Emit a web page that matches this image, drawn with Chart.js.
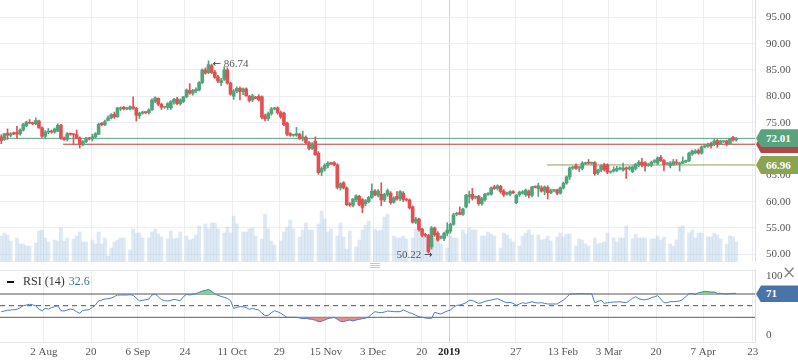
<!DOCTYPE html>
<html>
<head>
<meta charset="utf-8">
<title>Price with RSI</title>
<script src="https://cdn.jsdelivr.net/npm/chart.js@4.4.1/dist/chart.umd.min.js"></script>
<style>
    html, body { margin: 0; padding: 0; background: #fff; }
    #wrap { position: relative; width: 798px; height: 363px; overflow: hidden; font-family: 'Liberation Serif', 'Times New Roman', serif; color: #555; }
    canvas { position: absolute; left: 0; }
    #main { top: 0; }
    #rsi { top: 263px; }
    .tag { position: absolute; left: 756px; width: 42px; height: 18px; line-height: 18px; padding-left: 10px; box-sizing: border-box; color: #fff; font-weight: bold; font-size: 11px; clip-path: polygon(0 50%, 5px 0, 100% 0, 100% 100%, 5px 100%); }
    .note { position: absolute; font-size: 11px; color: #555; white-space: nowrap; line-height: 12px; }
    .arrow { font-family: 'DejaVu Sans', sans-serif; font-size: 10px; color: #333; }
    #grip { position: absolute; left: 370px; top: 263px; width: 10px; height: 5px; border-top: 1px solid #c4c7cc; border-bottom: 1px solid #c4c7cc; box-sizing: border-box; }
    #grip::after { content: ''; position: absolute; left: 0; right: 0; top: 1px; border-top: 1px solid #c4c7cc; }
    #rsiLegend { position: absolute; left: 7px; top: 274px; font-size: 12px; color: #333; white-space: nowrap; line-height: 14px; }
    #rsiLegend .dash { display: inline-block; width: 7px; height: 2px; background: #111; vertical-align: middle; margin-right: 9px; }
    #rsiLegend .val { color: #3e6fb0; margin-left: 4px; }
    #closeBtn { position: absolute; left: 782px; top: 263px; font-family: 'DejaVu Sans', sans-serif; font-size: 17px; color: #888; line-height: 18px; }
</style>
</head>
<body>
<div id="wrap">
    <canvas id="main" width="798" height="262"></canvas>
    <canvas id="rsi" width="798" height="100"></canvas>
    <div id="grip"></div>
    <div class="tag" id="tagRed" style="background:#b24646;"></div>
    <div class="tag" id="tagGreen" style="background:#58a37d;">72.01</div>
    <div class="tag" id="tagOlive" style="background:#8ca34f;">66.96</div>
    <div class="tag" id="tagRsi" style="background:#4a74a8; height:17px; line-height:17px;">71</div>
    <div class="note" id="hiNote"><span class="arrow">&#8592;</span> 86.74</div>
    <div class="note" id="loNote">50.22 <span class="arrow">&#8594;</span></div>
    <div id="rsiLegend"><span class="dash"></span>RSI (14)<span class="val">32.6</span></div>
    <div id="closeBtn">&#215;</div>
</div>
<script>
// candles, one per session
const opens = [
    72.3,71.8,73.0,72.6,73.0,73.1,72.9,73.6,74.4,75.1, 74.9,74.8,75.3,74.0,72.4,73.2,73.4,73.2,73.4,74.5,
    72.0,71.8,72.9,72.8,72.7,72.1,70.8,71.4,72.0,71.9, 72.3,72.8,74.9,74.6,75.4,75.9,76.6,76.1,77.6,77.9,
    77.6,77.6,78.0,77.7,76.3,76.8,77.0,76.9,77.4,79.0, 79.6,78.5,77.9,77.9,77.8,78.9,79.5,78.6,79.0,79.9,
    81.1,80.6,81.0,81.2,82.6,85.0,84.5,85.8,84.6,83.7, 82.6,83.2,85.0,82.5,80.0,81.0,81.5,80.9,81.4,80.0,
    79.3,79.8,80.0,79.9,76.3,75.8,76.7,77.6,77.8,76.9, 76.8,74.9,72.9,72.6,72.6,72.8,71.9,72.2,71.2,70.1,
    71.5,69.2,65.6,66.2,66.8,67.3,67.4,67.0,62.6,63.6, 62.6,59.5,59.3,60.4,61.0,60.4,59.6,60.0,60.8,62.0,
    61.2,61.4,60.3,61.3,61.6,59.9,61.0,60.6,61.6,60.4, 60.3,59.0,56.1,56.7,54.8,53.7,53.6,51.4,55.0,54.0,
    53.2,53.0,54.0,54.4,55.7,57.6,57.9,57.6,59.0,61.0, 61.4,60.8,61.0,59.6,60.4,61.4,61.4,62.8,62.5,62.9,
    62.0,61.5,61.4,61.9,59.8,61.3,61.6,61.3,61.9,61.2, 62.8,62.5,62.6,62.0,62.7,61.7,62.1,62.2,61.6,62.6,
    63.5,64.7,66.4,66.8,66.4,66.3,67.2,67.4,67.3,67.4, 65.5,66.0,67.0,67.0,65.6,65.8,65.9,66.2,66.0,66.4,
    66.2,65.7,66.3,66.9,67.5,67.4,66.9,66.9,67.5,67.3, 68.4,67.8,67.2,66.8,67.0,67.5,67.1,67.3,67.6,67.8,
    69.0,69.3,69.7,69.2,70.4,70.5,71.0,70.8,71.6,71.0, 71.4,71.5,71.0,72.2,71.7
];
const highs = [
    72.7,73.0,73.8,73.1,73.2,74.3,73.8,74.9,75.3,75.6, 75.1,75.9,75.5,74.2,73.5,73.9,73.6,74.0,74.8,74.7,
    72.3,73.1,73.0,72.9,73.6,72.3,71.6,72.2,72.2,72.8, 73.1,74.9,75.0,75.5,76.3,76.7,77.0,77.9,78.0,78.1,
    77.9,78.2,79.9,77.9,77.0,77.2,77.1,77.6,79.5,79.9, 79.7,78.7,78.1,78.8,79.2,79.6,79.8,79.5,80.0,81.4,
    82.4,81.3,81.6,82.8,85.2,85.4,86.74,86.1,84.9,84.0, 83.4,85.6,85.4,82.7,81.3,81.8,81.8,81.6,81.6,80.2,
    80.4,80.0,80.3,80.1,76.6,77.0,77.9,77.9,78.0,77.2, 77.0,75.1,73.1,72.8,74.1,73.0,73.4,72.5,71.4,71.2,
    72.3,69.5,66.6,67.2,67.6,67.5,67.6,67.2,63.6,63.8, 62.8,59.8,60.6,61.3,61.2,60.6,60.4,61.0,63.4,62.3,
    62.3,63.6,61.6,62.4,61.9,60.9,61.9,62.1,61.9,60.6, 60.5,59.2,57.0,56.9,55.0,54.0,53.8,55.3,55.2,54.3,
    53.5,54.2,56.0,55.9,57.8,58.0,59.0,58.8,61.4,62.0, 62.5,61.1,61.2,60.8,61.6,61.7,62.8,63.1,63.2,63.1,
    62.3,61.8,62.1,62.1,61.4,62.0,62.1,62.4,62.2,62.9, 63.0,63.5,63.0,63.0,63.0,62.4,62.3,62.4,62.8,63.7,
    64.9,66.6,66.7,67.2,66.7,67.6,67.5,68.0,67.5,67.6, 66.2,67.0,67.3,67.2,65.8,66.6,66.7,66.6,67.3,66.6,
    66.7,66.8,67.3,67.8,68.2,67.6,67.3,67.7,68.0,68.5, 68.8,68.0,67.4,67.6,68.0,68.0,67.5,68.5,67.9,69.4,
    69.8,69.9,70.0,70.6,70.7,71.1,71.3,71.8,71.8,71.7, 71.6,71.7,72.0,72.4,72.2
];
const lows = [
    71.0,71.6,71.8,72.3,72.7,72.0,72.6,73.4,74.2,74.8, 74.6,74.6,73.9,72.2,72.1,72.9,73.0,73.0,73.3,71.8,
    71.6,71.5,72.6,70.9,72.0,70.2,70.6,71.2,71.7,71.5, 72.1,72.7,74.4,74.4,75.3,75.7,75.8,76.0,77.3,77.4,
    77.4,77.4,77.5,75.3,75.8,76.6,76.7,76.6,77.3,78.8, 78.2,77.5,77.7,77.5,77.5,78.5,78.4,78.3,78.8,79.7,
    80.4,80.2,80.7,81.0,82.4,84.2,84.3,84.3,83.4,82.6, 82.0,83.0,82.3,80.2,79.4,80.7,79.3,80.3,80.0,78.9,
    79.0,79.5,79.1,75.7,75.3,75.4,76.4,77.4,76.6,75.8, 74.4,72.5,72.4,72.4,72.4,71.8,71.5,71.0,69.8,69.9,
    68.8,65.2,64.9,65.8,66.4,67.0,66.8,62.4,62.2,62.4, 59.2,59.1,59.0,60.0,59.2,57.9,59.2,59.8,60.6,61.1,
    60.9,59.2,60.0,61.0,59.5,59.7,60.3,60.2,60.0,60.1, 58.6,55.9,55.8,54.4,53.3,53.3,50.22,51.0,53.4,52.5,
    52.9,52.6,53.5,54.0,55.5,57.3,57.5,57.4,58.8,59.7, 60.3,60.5,59.3,59.3,60.1,61.2,61.2,62.3,62.2,61.6,
    61.0,61.2,61.1,61.5,59.6,61.0,61.4,61.0,60.7,60.9, 62.6,61.0,61.8,61.3,60.5,61.5,61.9,61.3,61.4,62.4,
    63.3,64.2,66.1,66.1,65.7,66.0,67.0,67.1,67.1,65.0, 65.1,65.7,65.8,65.3,65.4,65.6,65.7,66.0,65.8,64.4,
    66.0,65.5,66.0,66.6,66.6,65.8,66.7,66.6,67.3,67.0, 67.6,65.9,67.0,66.4,66.9,67.0,65.8,67.2,67.4,67.6,
    68.8,69.1,69.0,69.0,70.2,70.3,70.2,70.6,70.3,70.9, 71.2,70.6,70.8,71.5,71.5
];
const closes = [
    71.6,72.9,72.6,72.9,72.9,72.8,73.6,74.7,75.1,74.9, 74.8,75.4,74.0,72.4,73.2,73.4,73.2,73.8,74.5,72.0,
    71.8,72.9,72.8,72.7,72.1,70.8,71.4,72.0,71.9,72.3, 72.9,74.7,74.6,75.2,75.9,76.5,76.1,77.8,77.8,77.6,
    77.7,78.0,77.7,76.4,76.8,77.0,76.9,77.4,79.3,79.7, 78.5,77.9,77.9,78.6,79.0,79.4,78.6,79.3,79.9,81.2,
    80.6,81.1,81.3,82.6,85.0,84.4,86.0,84.5,83.6,82.9, 83.0,85.0,82.5,80.4,81.0,81.5,80.9,81.4,80.1,79.2,
    80.1,79.6,79.3,76.0,75.7,76.7,77.6,77.7,76.9,76.1, 74.6,72.8,72.6,72.7,72.9,71.9,72.3,71.2,70.1,70.9,
    68.9,65.5,66.3,66.9,67.3,67.2,67.0,62.7,63.4,62.6, 59.4,59.4,60.5,61.1,59.4,58.9,60.2,60.8,62.0,61.3,
    62.0,60.3,61.4,62.1,59.8,60.7,60.5,61.9,60.4,60.3, 58.8,56.1,56.7,54.7,53.6,53.6,50.5,55.0,53.7,52.7,
    53.3,54.0,54.6,55.7,57.5,57.7,57.6,58.6,61.2,61.3, 60.6,60.9,59.6,60.6,61.4,61.5,62.6,62.5,63.0,61.9,
    61.3,61.6,61.9,61.7,61.2,61.8,61.9,62.2,61.2,62.8, 62.7,63.0,62.0,62.8,61.7,62.1,62.2,61.6,62.6,63.5,
    64.7,66.4,66.5,66.3,66.4,67.3,67.3,67.3,67.4,65.3, 66.0,66.8,66.1,65.6,65.7,66.1,66.3,66.3,66.4,66.2,
    66.5,66.6,67.1,67.5,67.0,66.8,67.1,67.5,67.8,68.3, 67.8,67.0,67.2,67.3,67.6,67.3,67.3,67.6,67.8,69.2,
    69.6,69.6,69.2,70.4,70.5,70.9,70.6,71.5,70.9,71.5, 71.4,71.0,71.9,71.7,72.01
];
const volumes = [
    2.6,2.9,2.7,2.1,0,2.4,1.8,1.8,1.6,1.6, 0,1.9,3.1,3.2,2.4,2.0,0,2.2,2.1,3.4,
    2.1,2.4,0,2.3,2.6,3.0,2.0,2.0,0,2.2, 1.8,3.0,1.8,2.4,0.6,1.4,2.0,2.2,2.4,2.4,
    0,1.2,3.3,2.9,2.9,2.4,0,2.4,3.0,3.3, 2.8,2.5,0,2.3,3.1,2.3,2.4,3.0,0,2.6,
    2.2,2.3,2.7,3.6,0,3.8,3.3,3.9,3.9,3.3, 0,2.9,3.5,2.9,4.6,3.8,0,3.0,3.0,3.3,
    3.4,2.6,0,2.3,4.8,3.3,2.1,1.7,0,2.1, 3.0,3.5,4.2,3.3,0,2.5,3.2,3.9,3.2,3.2,
    0,3.8,5.1,4.3,3.0,3.3,0,2.6,3.9,2.5, 1.3,3.1,0,1.5,2.2,3.2,3.7,4.1,0,3.3,
    3.1,3.2,4.5,4.8,0,2.6,2.4,2.4,2.6,2.3, 0,2.4,3.3,4.2,2.4,2.6,1.9,2.8,2.4,2.8,
    1.8,0,1.4,2.6,2.4,2.4,0,3.2,2.8,3.4, 3.2,3.2,0,2.6,2.6,3.0,2.8,2.6,0,1.4,
    2.9,2.7,2.3,2.0,0,1.6,2.6,2.9,3.2,2.7, 0,2.7,2.2,2.3,2.6,2.1,0,2.5,2.9,2.5,
    2.8,2.8,0,1.6,2.3,2.2,1.8,1.6,0,2.4, 1.8,1.9,2.0,2.9,0,2.4,2.0,2.4,2.4,3.6,
    0,2.3,2.8,2.4,2.4,2.4,0,2.3,2.3,2.6, 2.2,2.5,0,1.8,1.6,2.2,3.5,3.6,0,2.9,
    3.2,2.4,2.9,2.9,0,2.5,2.5,2.9,2.7,2.3, 0,1.8,2.6,2.5,2.0
];
const rsiValues = [
    39.7,40.9,42.0,42.6,43.1,43.7,46.6,50.0,51.1,52.3, 51.7,49.4,44.3,40.9,45.4,44.3,46.6,48.3,50.0,41.4,
    40.9,42.6,44.3,43.1,39.7,36.9,42.0,42.6,43.1,47.1, 51.1,58.6,59.7,61.4,62.0,63.1,65.4,68.3,68.3,68.3,
    68.3,68.9,67.7,63.1,58.0,59.1,60.3,61.4,68.3,70.0, 65.4,60.3,58.6,58.0,59.1,60.9,59.7,58.6,65.4,69.4,
    68.3,69.4,70.6,72.9,75.1,76.3,78.0,74.6,70.0,67.7, 66.0,64.3,62.6,58.6,45.4,47.1,48.3,48.3,46.6,43.7,
    45.4,43.7,42.6,36.9,32.9,33.4,38.0,41.4,39.7,36.9, 33.4,30.0,30.0,30.0,30.0,28.9,27.7,28.3,27.1,26.6,
    24.9,22.6,23.1,25.4,27.7,28.9,30.0,26.6,23.1,22.6, 24.3,25.4,23.7,25.4,26.6,27.7,28.3,31.1,35.7,39.7,
    38.6,38.0,39.1,40.9,40.3,39.7,39.7,39.7,42.6,40.3, 38.0,36.3,33.4,31.1,30.0,28.9,28.3,28.3,38.6,36.9,
    35.7,38.6,40.9,42.6,47.1,50.6,51.1,52.9,55.1,59.1, 59.1,56.3,54.0,55.1,57.4,58.6,59.7,60.9,62.0,59.7,
    56.9,55.1,55.7,54.0,50.6,52.9,55.1,54.0,55.1,56.9, 55.1,54.6,55.1,54.0,52.9,52.9,52.9,52.9,56.3,59.7,
    64.3,69.6,70.3,70.3,70.6,70.8,70.4,70.3,70.5,55.1, 57.4,59.1,54.0,55.1,55.7,56.3,56.3,56.9,55.7,55.1,
    58.6,62.6,65.4,62.0,60.3,60.3,61.4,63.7,65.4,67.1, 61.4,55.1,55.1,56.9,56.9,57.4,58.0,60.9,65.4,71.1,
    70.6,69.4,72.3,73.4,74.6,74.0,73.4,73.4,71.1,71.1, 70.6,70.0,71.1,71.1,71.1
];

// date axis (positions in sessions)
const tickPositions = [13.6, 28.6, 43.5, 58.5, 73.5, 88.5, 103.4, 118.4, 133.9, 142.6, 148.6, 163.8, 178.8, 193.5, 208.5, 223.5, 239.3];
const tickLabels = ['2 Aug', '20', '6 Sep', '24', '11 Oct', '29', '15 Nov', '3 Dec', '20', '2019', '', '27', '13 Feb', '3 Mar', '20', '7 Apr', '23'];
const yearTick = 142.6;
const priceTicks = [50, 55, 60, 65, 70, 75, 80, 85, 90, 95];

// horizontal levels drawn on the price pane
const levelValues = [72.01, 70.9, 66.96];
const levelStarts = [-0.4, 19.7, 173.8];
const levelColors = ['#5aa37f', '#b43c3c', '#8ca34f'];
const rsiLevels = [70, 50, 30];

const X_MIN = -0.4, X_MAX = 240.0;
const UP = '#52a47b', DOWN = '#e05252', FLAT = '#8c8c8c';
const GRID = '#eceef1';

Chart.defaults.font.family = "'Liberation Serif', 'Times New Roman', serif";
Chart.defaults.color = '#555';

const candleColors = closes.map((c, i) => c > opens[i] ? UP : (c < opens[i] ? DOWN : FLAT));
const xGridColor = ctx => (ctx.tick && ctx.tick.value === yearTick) ? '#cdd1d6' : GRID;
// no automatic label padding, the panes sit edge to edge
const noPad = s => { s.paddingTop = 0; s.paddingBottom = 0; s.paddingLeft = 0; s.paddingRight = 0; };

const levelSets = levelValues.map((v, k) => ({
    type: 'line',
    data: [{ x: levelStarts[k], y: v }, { x: X_MAX, y: v }],
    borderColor: levelColors[k],
    borderWidth: 1,
    pointRadius: 0,
    order: 3
}));

const mainChart = new Chart(document.getElementById('main'), {
    type: 'bar',
    data: {
        datasets: [
            {
                type: 'bar',
                yAxisID: 'yVol',
                data: volumes.map((v, i) => ({ x: i, y: v })),
                backgroundColor: 'rgba(176, 203, 228, 0.42)',
                barPercentage: 1,
                categoryPercentage: 1,
                grouped: false,
                order: 5
            },
            ...levelSets,
            {
                type: 'bar',
                data: lows.map((l, i) => ({ x: i, y: [l, highs[i]] })),
                backgroundColor: candleColors,
                barThickness: 1,
                grouped: false,
                order: 2
            },
            {
                type: 'bar',
                data: opens.map((o, i) => ({ x: i, y: [o, closes[i]] })),
                backgroundColor: candleColors,
                barThickness: 3,
                minBarLength: 1,
                grouped: false,
                order: 1
            }
        ]
    },
    options: {
        responsive: false,
        animation: false,
        devicePixelRatio: 1,
        events: [],
        layout: { padding: 0, autoPadding: false },
        plugins: { legend: { display: false }, tooltip: { enabled: false } },
        scales: {
            x: {
                type: 'linear',
                min: X_MIN,
                max: X_MAX,
                offset: false,
                afterBuildTicks: s => { s.ticks = tickPositions.map(v => ({ value: v })); },
                afterFit: s => { s.height = 0; noPad(s); },
                ticks: { display: false },
                grid: { offset: false, drawTicks: false, color: xGridColor },
                border: { display: true, color: '#e3e6ea' }
            },
            y: {
                position: 'right',
                min: 48.54,
                max: 98.28,
                afterBuildTicks: s => { s.ticks = priceTicks.map(v => ({ value: v })); },
                afterFit: s => { s.width = 43; noPad(s); },
                ticks: { padding: 11, color: '#555', font: { size: 11 }, callback: v => v.toFixed(2) },
                grid: { drawTicks: false, color: GRID },
                border: { display: true, color: '#dcdfe3' }
            },
            yVol: { display: false, min: 0, max: 26.2 }
        }
    }
});

const rsiPoints = rsiValues.map((v, i) => ({ x: i, y: v }));
const rsiLevelSets = rsiLevels.map(v => ({
    data: [{ x: X_MIN, y: v }, { x: X_MAX, y: v }],
    borderColor: '#555',
    borderWidth: 1,
    borderDash: v === 50 ? [5, 4] : [],
    pointRadius: 0,
    order: 3
}));

const rsiChart = new Chart(document.getElementById('rsi'), {
    type: 'line',
    data: {
        datasets: [
            ...rsiLevelSets,
            {
                data: rsiPoints,
                borderWidth: 0,
                borderColor: 'rgba(0,0,0,0)',
                pointRadius: 0,
                fill: { target: { value: 30 }, above: 'rgba(0,0,0,0)', below: '#f08888' },
                order: 2
            },
            {
                data: rsiPoints,
                borderColor: '#4d7cc0',
                borderWidth: 1,
                pointRadius: 0,
                fill: { target: { value: 70 }, above: '#72dd72', below: 'rgba(0,0,0,0)' },
                order: 1
            }
        ]
    },
    options: {
        responsive: false,
        animation: false,
        devicePixelRatio: 1,
        events: [],
        layout: { padding: { top: 7 }, autoPadding: false },
        plugins: { legend: { display: false }, tooltip: { enabled: false } },
        scales: {
            x: {
                type: 'linear',
                min: X_MIN,
                max: X_MAX,
                afterBuildTicks: s => { s.ticks = tickPositions.map(v => ({ value: v })); },
                afterFit: s => { s.height = 21; noPad(s); },
                ticks: {
                    autoSkip: false,
                    maxRotation: 0,
                    padding: 4,
                    callback: (v, i) => tickLabels[i],
                    color: ctx => (ctx.tick && ctx.tick.label === '2019') ? '#222' : '#555',
                    font: ctx => ({ size: 11, weight: (ctx.tick && ctx.tick.label === '2019') ? 'bold' : 'normal' })
                },
                grid: { drawTicks: false, color: xGridColor },
                border: { display: true, color: '#e3e6ea' }
            },
            y: {
                position: 'right',
                min: -12.3,
                max: 111.2,
                afterBuildTicks: s => { s.ticks = [-12.3, 0, 100, 111.2].map(v => ({ value: v })); },
                afterFit: s => { s.width = 43; noPad(s); },
                ticks: { padding: 11, color: '#555', font: { size: 11 }, callback: v => (v === 0 || v === 100) ? String(v) : '' },
                grid: { drawTicks: false, color: ctx => (ctx.tick && ctx.tick.value === 111.2) ? '#e6e8eb' : 'rgba(0,0,0,0)' },
                border: { display: true, color: '#dcdfe3' }
            }
        }
    }
});

// place the value tags and notes from the chart scales
const xs = mainChart.scales.x, ys = mainChart.scales.y;
const setTop = (id, y) => { document.getElementById(id).style.top = y + 'px'; };
setTop('tagRed', ys.getPixelForValue(levelValues[1]) - 9);
setTop('tagGreen', ys.getPixelForValue(levelValues[0]) - 9);
setTop('tagOlive', ys.getPixelForValue(levelValues[2]) - 9);
setTop('tagRsi', 263 + rsiChart.scales.y.getPixelForValue(rsiValues[rsiValues.length - 1]) - 8);

const hiIdx = highs.indexOf(Math.max(...highs));
const loIdx = lows.indexOf(Math.min(...lows));
const hi = document.getElementById('hiNote');
hi.style.left = (xs.getPixelForValue(hiIdx) + 4) + 'px';
hi.style.top = (ys.getPixelForValue(highs[hiIdx]) - 4) + 'px';
const lo = document.getElementById('loNote');
lo.style.left = (xs.getPixelForValue(loIdx) + 4 - lo.offsetWidth) + 'px';
lo.style.top = (ys.getPixelForValue(lows[loIdx]) - 5) + 'px';
</script>
</body>
</html>
